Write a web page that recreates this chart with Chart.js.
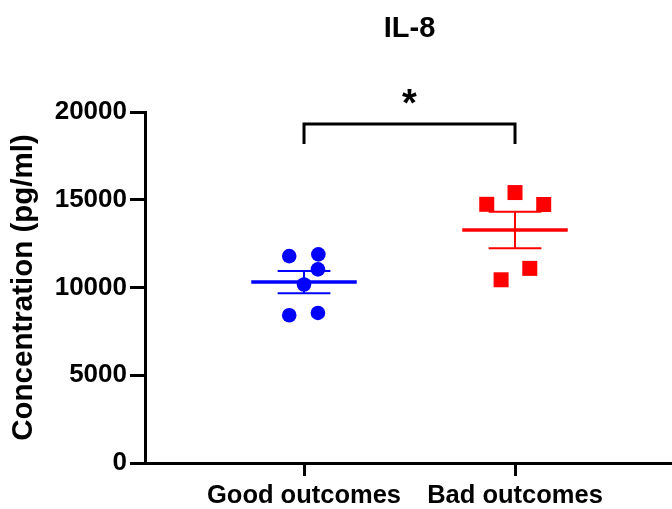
<!DOCTYPE html>
<html><head><meta charset="utf-8">
<script src="https://cdn.jsdelivr.net/npm/chart.js@4"></script>
<style>html,body{margin:0;padding:0;background:#fff}#wrap{width:672px;height:509px}</style>
</head><body><div id="wrap"><canvas id="c" width="672" height="509"></canvas></div>
<script>
// ---- data ----
const categories = ['Good outcomes', 'Bad outcomes'];
const goodValues = [11790, 11890, 11030, 10170, 8420, 8550];
const badValues  = [14740, 15410, 14730, 11090, 10440];
const goodJitter = [-0.07, 0.068, 0.066, 0, -0.07, 0.066];
const badJitter  = [-0.134, 0, 0.136, 0.07, -0.066];
const yTicks = [0, 5000, 10000, 15000, 20000];
const chartTitle = 'IL-8';
const yTitle = 'Concentration (pg/ml)';
const significance = '*';
const bracketTop = 19310;
const bracketFoot = 18170;
const starValue = 20860;

const FONT = "'Liberation Sans', Arial, sans-serif";
const BLUE = '#0000ff', RED = '#ff0000';

function mean(a){ return a.reduce((s,v)=>s+v,0)/a.length; }
function sem(a){ const m=mean(a); const v=a.reduce((s,x)=>s+(x-m)*(x-m),0)/(a.length-1); return Math.sqrt(v/a.length); }

function summarySets(values, pos, color){
  const m = mean(values), e = sem(values);
  const base = {type:'line', borderColor: color, backgroundColor: color, pointRadius:0, fill:false, order:2};
  return [
    Object.assign({}, base, {data:[{x:pos-0.25,y:m},{x:pos+0.25,y:m}], borderWidth:3.5}),
    Object.assign({}, base, {data:[{x:pos,y:m-e},{x:pos,y:m+e}], borderWidth:2}),
    Object.assign({}, base, {data:[{x:pos-0.125,y:m+e},{x:pos+0.125,y:m+e}], borderWidth:2}),
    Object.assign({}, base, {data:[{x:pos-0.125,y:m-e},{x:pos+0.125,y:m-e}], borderWidth:2})
  ];
}

const datasets = [
  ...summarySets(goodValues, 1, BLUE),
  ...summarySets(badValues, 2, RED),
  {type:'scatter', label: categories[0], data: goodValues.map((v,i)=>({x:1+goodJitter[i], y:v})),
   pointStyle:'circle', pointRadius:7.3, pointHoverRadius:7.3, backgroundColor:BLUE, borderColor:BLUE, borderWidth:0, order:1},
  {type:'scatter', label: categories[1], data: badValues.map((v,i)=>({x:2+badJitter[i], y:v})),
   pointStyle:'rect', pointRadius:10.6, pointHoverRadius:10.6, backgroundColor:RED, borderColor:RED, borderWidth:0, order:1}
];

const annotate = {
  id:'annotate',
  afterDraw(chart){
    const {ctx, scales:{x, y}} = chart;
    const x1 = x.getPixelForValue(1), x2 = x.getPixelForValue(2);
    const yt = y.getPixelForValue(bracketTop), yf = y.getPixelForValue(bracketFoot);
    ctx.save();
    ctx.strokeStyle = '#000'; ctx.lineWidth = 3; ctx.lineCap='butt'; ctx.lineJoin='miter';
    ctx.beginPath();
    ctx.moveTo(x1, yf); ctx.lineTo(x1, yt); ctx.lineTo(x2, yt); ctx.lineTo(x2, yf);
    ctx.stroke();
    ctx.fillStyle = '#000';
    ctx.textAlign = 'center'; ctx.textBaseline = 'middle';
    ctx.font = 'bold 38px ' + FONT;
    ctx.fillText(significance, (x1+x2)/2, y.getPixelForValue(starValue) + 9);
    ctx.font = 'bold 29px ' + FONT;
    ctx.fillText(chartTitle, (x1+x2)/2, 29);
    ctx.restore();
  }
};

new Chart(document.getElementById('c'), {
  data: {datasets},
  options: {
    responsive:false, animation:false, devicePixelRatio:1,
    layout:{autoPadding:false, padding:{top:112, left:0, right:0, bottom:0}},
    plugins:{legend:{display:false}, title:{display:false}, tooltip:{enabled:false}},
    scales:{
      x:{type:'linear', min:0.2464, max:2.744,
        afterBuildTicks(s){ s.ticks = categories.map((c,i)=>({value:i+1})); },
        afterFit(s){ s.height = 46; s.paddingLeft = 0; s.paddingRight = 0; },
        ticks:{callback:(v)=>categories[v-1] ?? '', color:'#000', font:{family:FONT, size:25.5, weight:'bold'}, padding:5, maxRotation:0, autoSkip:false},
        grid:{drawOnChartArea:false, drawTicks:true, tickLength:13, lineWidth:3, color:'#000'},
        border:{display:true, width:3, color:'#000'}
      },
      y:{type:'linear', min:0, max:20000,
        afterBuildTicks(s){ s.ticks = yTicks.map(v=>({value:v})); },
        afterFit(s){ s.width = 145; },
        ticks:{callback:(v)=>String(v), color:'#000', font:{family:FONT, size:26, weight:'bold'}, padding:3},
        grid:{drawOnChartArea:false, drawTicks:true, tickLength:15, lineWidth:3, color:'#000'},
        border:{display:true, width:3, color:'#000'},
        title:{display:true, text:yTitle, color:'#000', font:{family:FONT, size:29.5, weight:'bold'}, padding:{top:6, bottom:0}}
      }
    }
  },
  plugins:[annotate]
});
</script></body></html>
